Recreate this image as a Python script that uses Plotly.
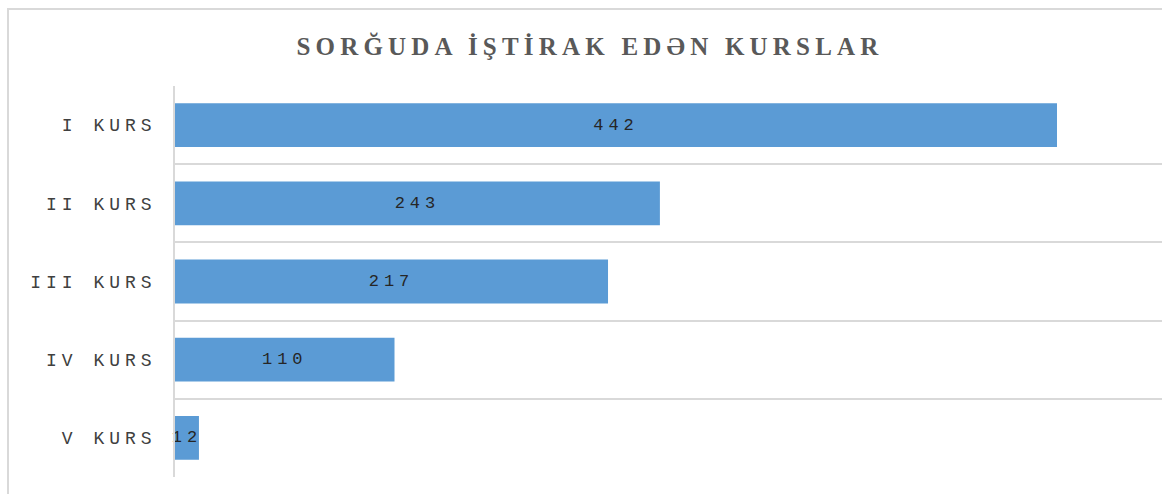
import plotly.graph_objects as go

categories = ["I KURS", "II KURS", "III KURS", "IV KURS", "V KURS"]
values = [442, 243, 217, 110, 12]
title_text = "SORĞUDA İŞTİRAK EDƏN KURSLAR"

W, H = 1162, 494
L, R, T, B = 175, 0, 86, 17
plot_w = W - L - R
plot_h = H - T - B

# bar of 442 ends at x=1057 -> scale
xmax = 442 * plot_w / (1057 - L)

mono = "Courier New, Nimbus Mono PS, FreeMono, Liberation Mono, monospace"

fig = go.Figure(go.Bar(
    x=values, y=categories, orientation="h",
    marker=dict(color="#5B9BD5", line=dict(width=0)),
    text=[str(v) for v in values],
    textposition="inside", insidetextanchor="middle", textangle=0,
    constraintext="none", cliponaxis=False,
    textfont=dict(family=mono, size=17, color="#262626"),
    hoverinfo="skip",
))

fig.update_layout(
    width=W, height=H,
    margin=dict(l=L, r=R, t=T, b=B, pad=0),
    paper_bgcolor="white", plot_bgcolor="white",
    bargap=0.44,
    showlegend=False,
    title=dict(
        text=title_text,
        x=590 / W, xref="container", xanchor="center",
        y=1 - 46 / H, yref="container", yanchor="middle",
        font=dict(family="Liberation Serif", size=25, color="#595959", weight="bold"),
    ),
    xaxis=dict(range=[0, xmax], showgrid=False, showticklabels=False,
               zeroline=False, showline=False, fixedrange=True),
    yaxis=dict(autorange="reversed", tickson="boundaries", showgrid=True,
               gridcolor="#D9D9D9", gridwidth=1.5, showline=True,
               linecolor="#D9D9D9", linewidth=1.5, ticks="",
               ticklabelstandoff=13,
               tickfont=dict(family=mono, size=18, color="#404040")),
    shapes=[dict(type="rect", xref="paper", yref="paper",
                 x0=(8 - L) / plot_w, x1=1.05,
                 y0=-0.2, y1=1 + (T - 9) / plot_h,
                 line=dict(color="#D9D9D9", width=2), layer="below")],
)

css = ("html,body{margin:0;padding:0;overflow:hidden}"
       ".gtitle{letter-spacing:5.2px}"
       ".ytick text{letter-spacing:5px}"
       "text.bartext{letter-spacing:5px}")
post = ("var s=document.createElement('style');s.textContent='" + css +
        "';document.head.appendChild(s);")

fig.write_html("out.html", post_script=post, config={"displayModeBar": False})
